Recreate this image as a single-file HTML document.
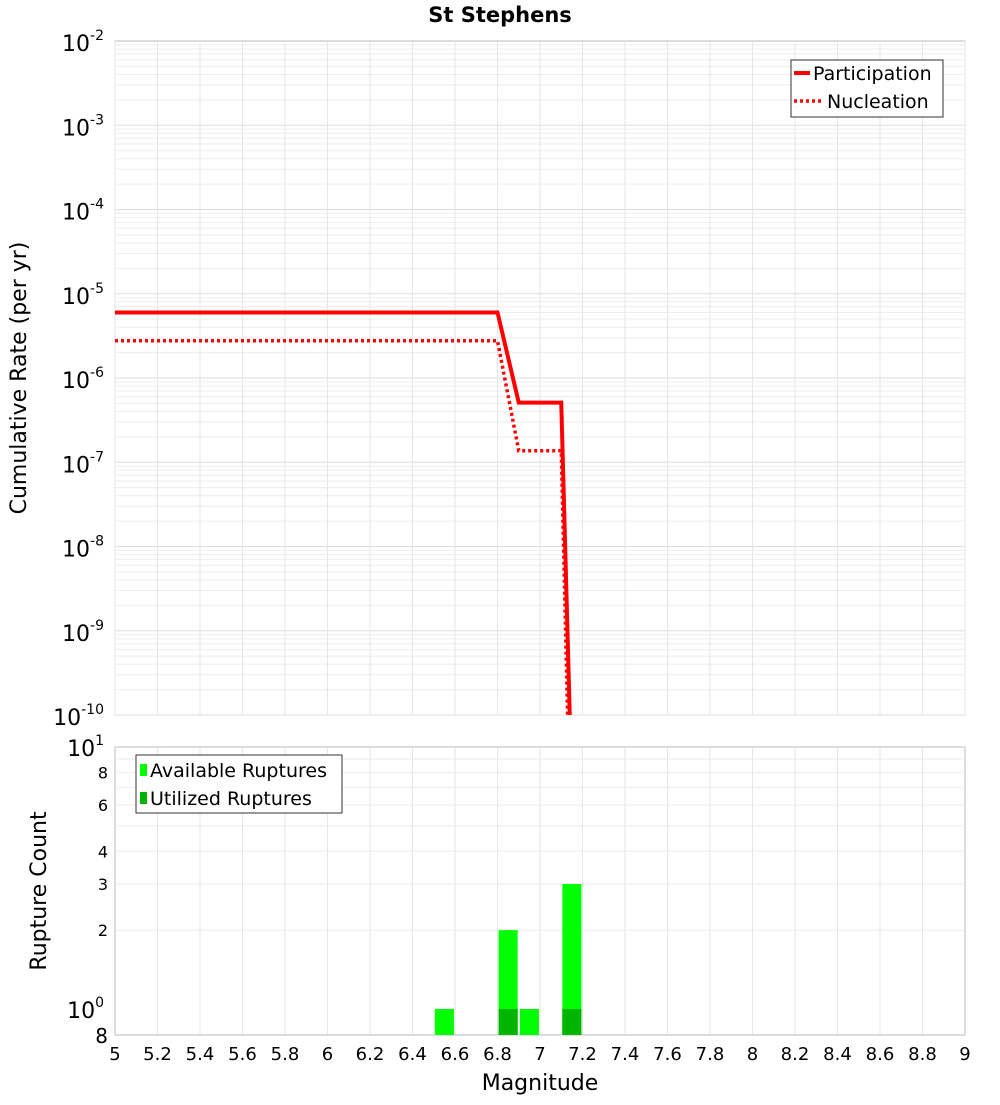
<!DOCTYPE html>
<html><head><meta charset="utf-8"><style>
body{margin:0;background:#fff;font-family:"Liberation Sans",sans-serif}
svg text{font-family:"DejaVu Sans","Liberation Sans",sans-serif}
</style></head><body>
<svg id="c" width="1000" height="1100" xmlns="http://www.w3.org/2000/svg"></svg>
<script>
const partX=[5,6.8,6.9,7.1,7.14];
const partY=[6.0e-6,6.0e-6,5.1e-7,5.1e-7,1e-10];
const nuclX=[5,6.8,6.9,7.1,7.13];
const nuclY=[2.77e-6,2.77e-6,1.37e-7,1.37e-7,1e-10];
const binCenters=[6.55,6.85,6.95,7.15];
const availCounts=[1,2,1,3];
const usedCounts=[0,1,0,1];
const xTicks=[5,5.2,5.4,5.6,5.8,6,6.2,6.4,6.6,6.8,7,7.2,7.4,7.6,7.8,8,8.2,8.4,8.6,8.8,9];
const xTickLabels=["5","5.2","5.4","5.6","5.8","6","6.2","6.4","6.6","6.8","7","7.2","7.4","7.6","7.8","8","8.2","8.4","8.6","8.8","9"];
const topExps=[-2,-3,-4,-5,-6,-7,-8,-9,-10];
const botTicks=[8,6,4,3,2];

const svg=document.getElementById('c');
const NS='http://www.w3.org/2000/svg';
function el(t,a,p){const e=document.createElementNS(NS,t);for(const k in a)e.setAttribute(k,a[k]);(p||svg).appendChild(e);return e;}
const L=115,R=965,T1=41,B1=715,T2=747,B2=1035;
const X=v=>L+(v-5)/4*(R-L);
const Y1=v=>T1+(-2-Math.log10(v))*(B1-T1)/8;
const Y2=v=>1009-Math.log10(v)*262;

// top plot
let r=el('rect',{x:L,y:T1,width:R-L,height:B1-T1,fill:'#fff',stroke:'#bbb'});

for(let e=-10;e<-2;e++){for(let m=1;m<10;m++){const y=Y1(m*Math.pow(10,e));el('line',{x1:L,x2:R,y1:y,y2:y,stroke:m==1?'#ddd':'#eee','stroke-width':1});}}
for(const t of xTicks){const x=X(t);el('line',{x1:x,x2:x,y1:T1,y2:B1,stroke:'#e6e6e6'});el('line',{x1:x,x2:x,y1:T2,y2:B2,stroke:'#e6e6e6'});}
for(const e of topExps){const y=Y1(Math.pow(10,e));const t=el('text',{x:104,y:y+10,'text-anchor':'end','font-size':22});t.innerHTML='10<tspan dy="-11" font-size="14">'+e+'</tspan>';
}
function poly(xs,ys,Yf,attrs,name){const p=el('polyline',Object.assign({points:xs.map((x,i)=>X(x)+','+Yf(Math.max(ys[i],1e-10))).join(' '),fill:'none'},attrs));}
poly(partX,partY,Y1,{stroke:'#f00','stroke-width':4},'participation-line');
poly(nuclX,nuclY,Y1,{stroke:'#f00','stroke-width':3.5,'stroke-dasharray':'3,3'},'nucleation-line');
let t=el('text',{x:500,y:22,'text-anchor':'middle','font-size':21,'font-weight':'bold'});t.textContent='St Stephens';
t=el('text',{x:26,y:378,'text-anchor':'middle','font-size':22,transform:'rotate(-90 26 378)'});t.textContent='Cumulative Rate (per yr)';
// legend top
const lg=el('g',{});
el('rect',{x:791,y:60,width:152,height:57,fill:'#fff',stroke:'#333'},lg);
el('line',{x1:794,x2:810,y1:73,y2:73,stroke:'#f00','stroke-width':4},lg);
el('text',{x:813,y:80,'font-size':19},lg).textContent='Participation';
el('line',{x1:794,x2:822,y1:101,y2:101,stroke:'#f00','stroke-width':3.5,'stroke-dasharray':'3,3'},lg);
el('text',{x:827,y:108,'font-size':19},lg).textContent='Nucleation';

// bottom
r=el('rect',{x:L,y:T2,width:R-L,height:B2-T2,fill:'none',stroke:'#bbb'});
for(const v of [8,9,7,6,5,4,3,2]){const y=Y2(v);el('line',{x1:L,x2:R,y1:y,y2:y,stroke:'#eee'});}
for(let i=0;i<binCenters.length;i++){const x0=X(binCenters[i]-0.045),w=X(binCenters[i]+0.045)-x0;
 let b=el('rect',{x:x0,y:Y2(availCounts[i]),width:w,height:B2-Y2(availCounts[i]),fill:'#00ff00'});
 if(usedCounts[i]>0){b=el('rect',{x:x0,y:Y2(usedCounts[i]),width:w,height:B2-Y2(usedCounts[i]),fill:'#00b400'});}}
for(const v of botTicks){t=el('text',{x:108,y:Y2(v)+6,'text-anchor':'end','font-size':16});t.textContent=v;}
t=el('text',{x:104,y:756,'text-anchor':'end','font-size':22});t.innerHTML='10<tspan dy="-11" font-size="14">1</tspan>';
t=el('text',{x:104,y:1018,'text-anchor':'end','font-size':22});t.innerHTML='10<tspan dy="-11" font-size="14">0</tspan>';
t=el('text',{x:108,y:1043,'text-anchor':'end','font-size':20});t.textContent='8';
t=el('text',{x:46,y:891,'text-anchor':'middle','font-size':22,transform:'rotate(-90 46 891)'});t.textContent='Rupture Count';
const lg2=el('g',{});
el('rect',{x:136,y:755,width:206,height:58,fill:'#fff',stroke:'#333'},lg2);
el('rect',{x:140,y:764,width:7,height:12,fill:'#00ff00'},lg2);
el('text',{x:150,y:777,'font-size':19},lg2).textContent='Available Ruptures';
el('rect',{x:140,y:792,width:7,height:12,fill:'#00b400'},lg2);
el('text',{x:150,y:805,'font-size':19},lg2).textContent='Utilized Ruptures';
xTicks.forEach((v,i)=>{t=el('text',{x:X(v),y:1060,'text-anchor':'middle','font-size':18});t.textContent=xTickLabels[i];});
t=el('text',{x:540,y:1090,'text-anchor':'middle','font-size':22});t.textContent='Magnitude';
</script>
</body></html>
